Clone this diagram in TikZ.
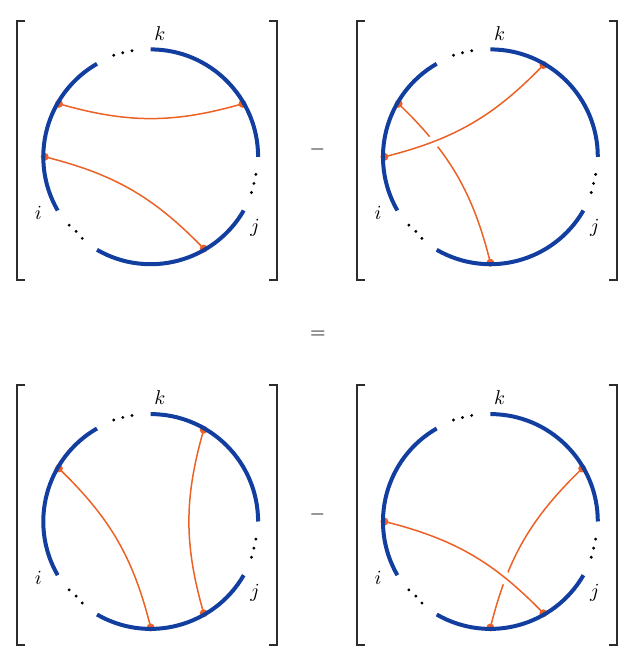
\documentclass[tikz,border=0pt]{standalone}
\usepackage{tikz}
\usetikzlibrary{positioning,calc}
\definecolor{ringblue}{RGB}{18,62,160}
\definecolor{chordorange}{RGB}{236,98,38}
\definecolor{bracketgray}{RGB}{45,45,45}
\tikzset{
    ring/.style={draw=ringblue, line width=2pt},
    chord/.style={draw=chordorange, line width=0.75pt},
    over/.style={preaction={draw=white, line width=6pt}},
    endpt/.style={fill=chordorange},
    gap dot/.style={fill=black},
    bracket/.style={draw=bracketgray, line width=0.9pt},
    leg label/.style={inner sep=0pt},
    op sign/.style={inner sep=0pt}
}
\newcommand{\Rad}{107.4}
% points where chords may end, slightly inside the ring
\newcommand{\legPoints}[1]{%
    \foreach \a in {30,60,150,180,270,300}
        \coordinate (#1-\a) at (\a:106);
}
% blue ring with three gaps, labels and brackets
\newcommand{\ringPanel}[1]{%
    \draw[ring] (0:\Rad) arc[start angle=0, end angle=90, radius=\Rad];
    \draw[ring] (-120:\Rad) arc[start angle=-120, end angle=-30, radius=\Rad];
    \draw[ring] (120:\Rad) arc[start angle=120, end angle=210, radius=\Rad];
    % dots in the gaps
    \foreach \n/\a/\r in {1/100/107.7,2/105/107.7,3/110/108,
                          4/220/106.4,5/225/105.5,6/230/106.5,
                          7/-9.5/106.7,8/-14.5/106.6,9/-19.5/107}{
        \coordinate (#1-dot\n) at (\a:\r);
        \fill[gap dot] (#1-dot\n) circle[radius=1.6];
    }
    \node[leg label] (#1-k) at (85.7:124) {$k$};
    \node[leg label] (#1-i) at (206.7:125.8) {$i$};
    \node[leg label] (#1-j) at (-34.4:126.5) {$j$};
    \draw[bracket] (-125.7,136.1) -- (-133.7,136.1) -- (-133.7,-123.2) -- (-125.7,-123.2);
    \draw[bracket] (118.3,136.1) -- (126.3,136.1) -- (126.3,-123.2) -- (118.3,-123.2);
}

\begin{document}
\begin{tikzpicture}[x=0.5pt, y=0.5pt]
    \useasboundingbox (0,0) rectangle (643,669);

    % top left
    \begin{scope}[shift={(150.7,512.2)}]
        \legPoints{a}
        \draw[chord] (a-150) to[bend right=16] (a-30);
        \draw[chord] (a-180) to[bend left=16] (a-300);
        \foreach \p in {a-150,a-30,a-180,a-300}
            \fill[endpt] (\p) circle[radius=4];
        \ringPanel{a}
    \end{scope}

    % top right
    \begin{scope}[shift={(490.4,512.2)}]
        \legPoints{b}
        \draw[chord] (b-150) to[bend left=16] (b-270);
        \draw[chord, over] (b-180) to[bend right=16] (b-60);
        \foreach \p in {b-150,b-270,b-180,b-60}
            \fill[endpt] (\p) circle[radius=4];
        \ringPanel{b}
    \end{scope}

    % bottom left
    \begin{scope}[shift={(150.7,147.5)}]
        \legPoints{c}
        \draw[chord] (c-150) to[bend left=16] (c-270);
        \draw[chord] (c-60) to[bend right=16] (c-300);
        \foreach \p in {c-150,c-270,c-60,c-300}
            \fill[endpt] (\p) circle[radius=4];
        \ringPanel{c}
    \end{scope}

    % bottom right
    \begin{scope}[shift={(490.4,147.5)}]
        \legPoints{d}
        \draw[chord] (d-30) to[bend right=16] (d-270);
        \draw[chord, over] (d-180) to[bend left=16] (d-300);
        \foreach \p in {d-30,d-270,d-180,d-300}
            \fill[endpt] (\p) circle[radius=4];
        \ringPanel{d}
    \end{scope}

    % signs between the panels
    \node[op sign] (minusTop) at (317.5,519) {$-$};
    \node[op sign] (equals) at (318,334.3) {$=$};
    \node[op sign] (minusBot) at (317.5,154) {$-$};
\end{tikzpicture}
\end{document}
